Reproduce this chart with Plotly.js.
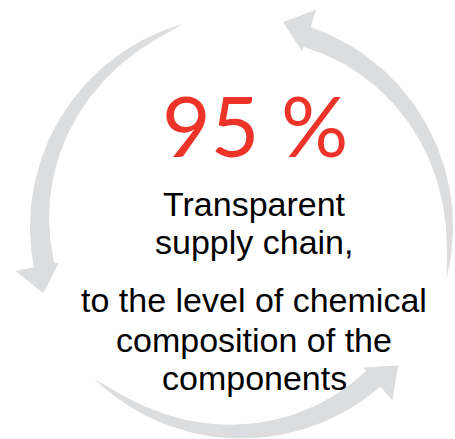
<!DOCTYPE html>
<html>
<head>
<meta charset="utf-8">
<script src="https://cdn.plot.ly/plotly-3.0.1.min.js"></script>
<style>html,body{margin:0;padding:0;background:#fff;}#chart{width:455px;height:439px;}</style>
</head>
<body>
<div id="chart"></div>
<script>
// ---- data ----
const headline = "95 %";
const textLines = ["Transparent", "supply chain,", "to the level of chemical", "composition of the", "components"];
const arrowStartDeg = [106, 226, 346];   // where each cycle arrow begins (tail)
const arrowSpanDeg = [92.5, 92.5, 92.5]; // angular extent of each arrow, tail to tip

// ---- geometry / style (not data) ----
const W = 455, H = 439;
const cx = 241.5, cy = 227;
const rOuter = 211.5, shaftMax = 21, headLenDeg = 7.5;
const headOut = 230, headIn = 186, tipR = 209;
const arrowColor = '#DCDDDF';
const lineBaselines = [216, 254, 312, 352, 390];
const textCenterX = 254;

function pt(r, deg) {
  const a = deg * Math.PI / 180;
  return [cx + r * Math.cos(a), cy - r * Math.sin(a)];
}

const traces = arrowStartDeg.map((s, i) => {
  const tipDeg = s + arrowSpanDeg[i];
  const baseDeg = tipDeg - headLenDeg;
  const n = 80;
  const xs = [], ys = [];
  for (let k = 0; k <= n; k++) {
    const d = s + (baseDeg - s) * k / n;
    const p = pt(rOuter, d); xs.push(p[0]); ys.push(p[1]);
  }
  [[headOut, baseDeg], [tipR, tipDeg], [headIn, baseDeg]].forEach(([r, d]) => {
    const p = pt(r, d); xs.push(p[0]); ys.push(p[1]);
  });
  for (let k = n; k >= 0; k--) {
    const t = k / n;
    const d = s + (baseDeg - s) * t;
    const w = shaftMax * Math.pow(t, 0.6);
    const p = pt(rOuter - w, d); xs.push(p[0]); ys.push(p[1]);
  }
  return {
    type: 'scatter', mode: 'lines', x: xs, y: ys, fill: 'toself',
    fillcolor: arrowColor, line: {width: 0, color: arrowColor},
    hoverinfo: 'skip', showlegend: false
  };
});

const annotations = [{
  x: 255, y: 155 - 0.36 * 84, xref: 'x', yref: 'y', text: headline, showarrow: false,
  xanchor: 'center', yanchor: 'middle',
  font: {family: 'Lato, "Open Sans", sans-serif', size: 84, color: '#EE3429'}
}].concat(textLines.map((t, i) => ({
  x: textCenterX, y: lineBaselines[i] - 0.36 * 34, xref: 'x', yref: 'y', text: t, showarrow: false,
  xanchor: 'center', yanchor: 'middle',
  font: {family: '"Liberation Sans", Arial, sans-serif', size: 34, color: '#000000'}
})));

const layout = {
  width: W, height: H,
  margin: {l: 0, r: 0, t: 0, b: 0},
  paper_bgcolor: '#ffffff', plot_bgcolor: '#ffffff',
  xaxis: {range: [0, W], visible: false, fixedrange: true},
  yaxis: {range: [H, 0], visible: false, fixedrange: true},
  showlegend: false,
  annotations: annotations
};

Plotly.newPlot('chart', traces, layout, {staticPlot: true, displayModeBar: false});
</script>
</body>
</html>
